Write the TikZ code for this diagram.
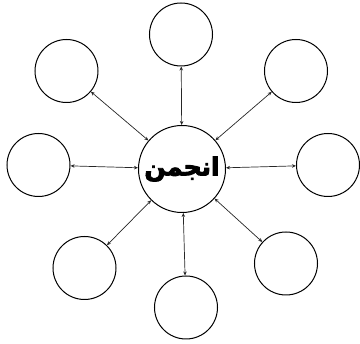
\documentclass[tikz,border=0pt]{standalone}
\usepackage{fontspec}
\newfontfamily\arabicfont[Script=Arabic,BoldFeatures={FakeBold=3.5}]{DejaVu Sans}
\TeXXeTstate=1
\usetikzlibrary{arrows.meta}

\begin{document}
\begin{tikzpicture}[
    x=1pt, y=-1pt,
    hub/.style={draw, circle, line width=1pt, minimum size=87pt, inner sep=0pt,
      font=\arabicfont\bfseries\fontsize{25}{28}\selectfont},
    leaf/.style={draw, circle, line width=1pt, minimum size=63pt, inner sep=0pt},
    link/.style={{Stealth[length=4pt,width=3.5pt]}-{Stealth[length=4pt,width=3.5pt]}, line width=0.7pt, black!85}
]
\useasboundingbox (0,0) rectangle (360,344);

\node[hub] (anjoman) at (182,169) {\beginR انجمن\endR};

\node[leaf] (top) at (181,34.5) {};
\node[leaf] (topleft) at (66.5,71) {};
\node[leaf] (topright) at (296,71) {};
\node[leaf] (left) at (38.5,165) {};
\node[leaf] (right) at (328,165) {};
\node[leaf] (botleft) at (84.5,268) {};
\node[leaf] (botright) at (286,263.5) {};
\node[leaf] (bottom) at (186,307.5) {};

\draw[link] (anjoman) -- (top);
\draw[link] (anjoman) -- (topleft);
\draw[link] (anjoman) -- (topright);
\draw[link] (anjoman) -- (left);
\draw[link] (anjoman) -- (right);
\draw[link] (anjoman) -- (botleft);
\draw[link] (anjoman) -- (botright);
\draw[link] (anjoman) -- (bottom);
\end{tikzpicture}
\end{document}
